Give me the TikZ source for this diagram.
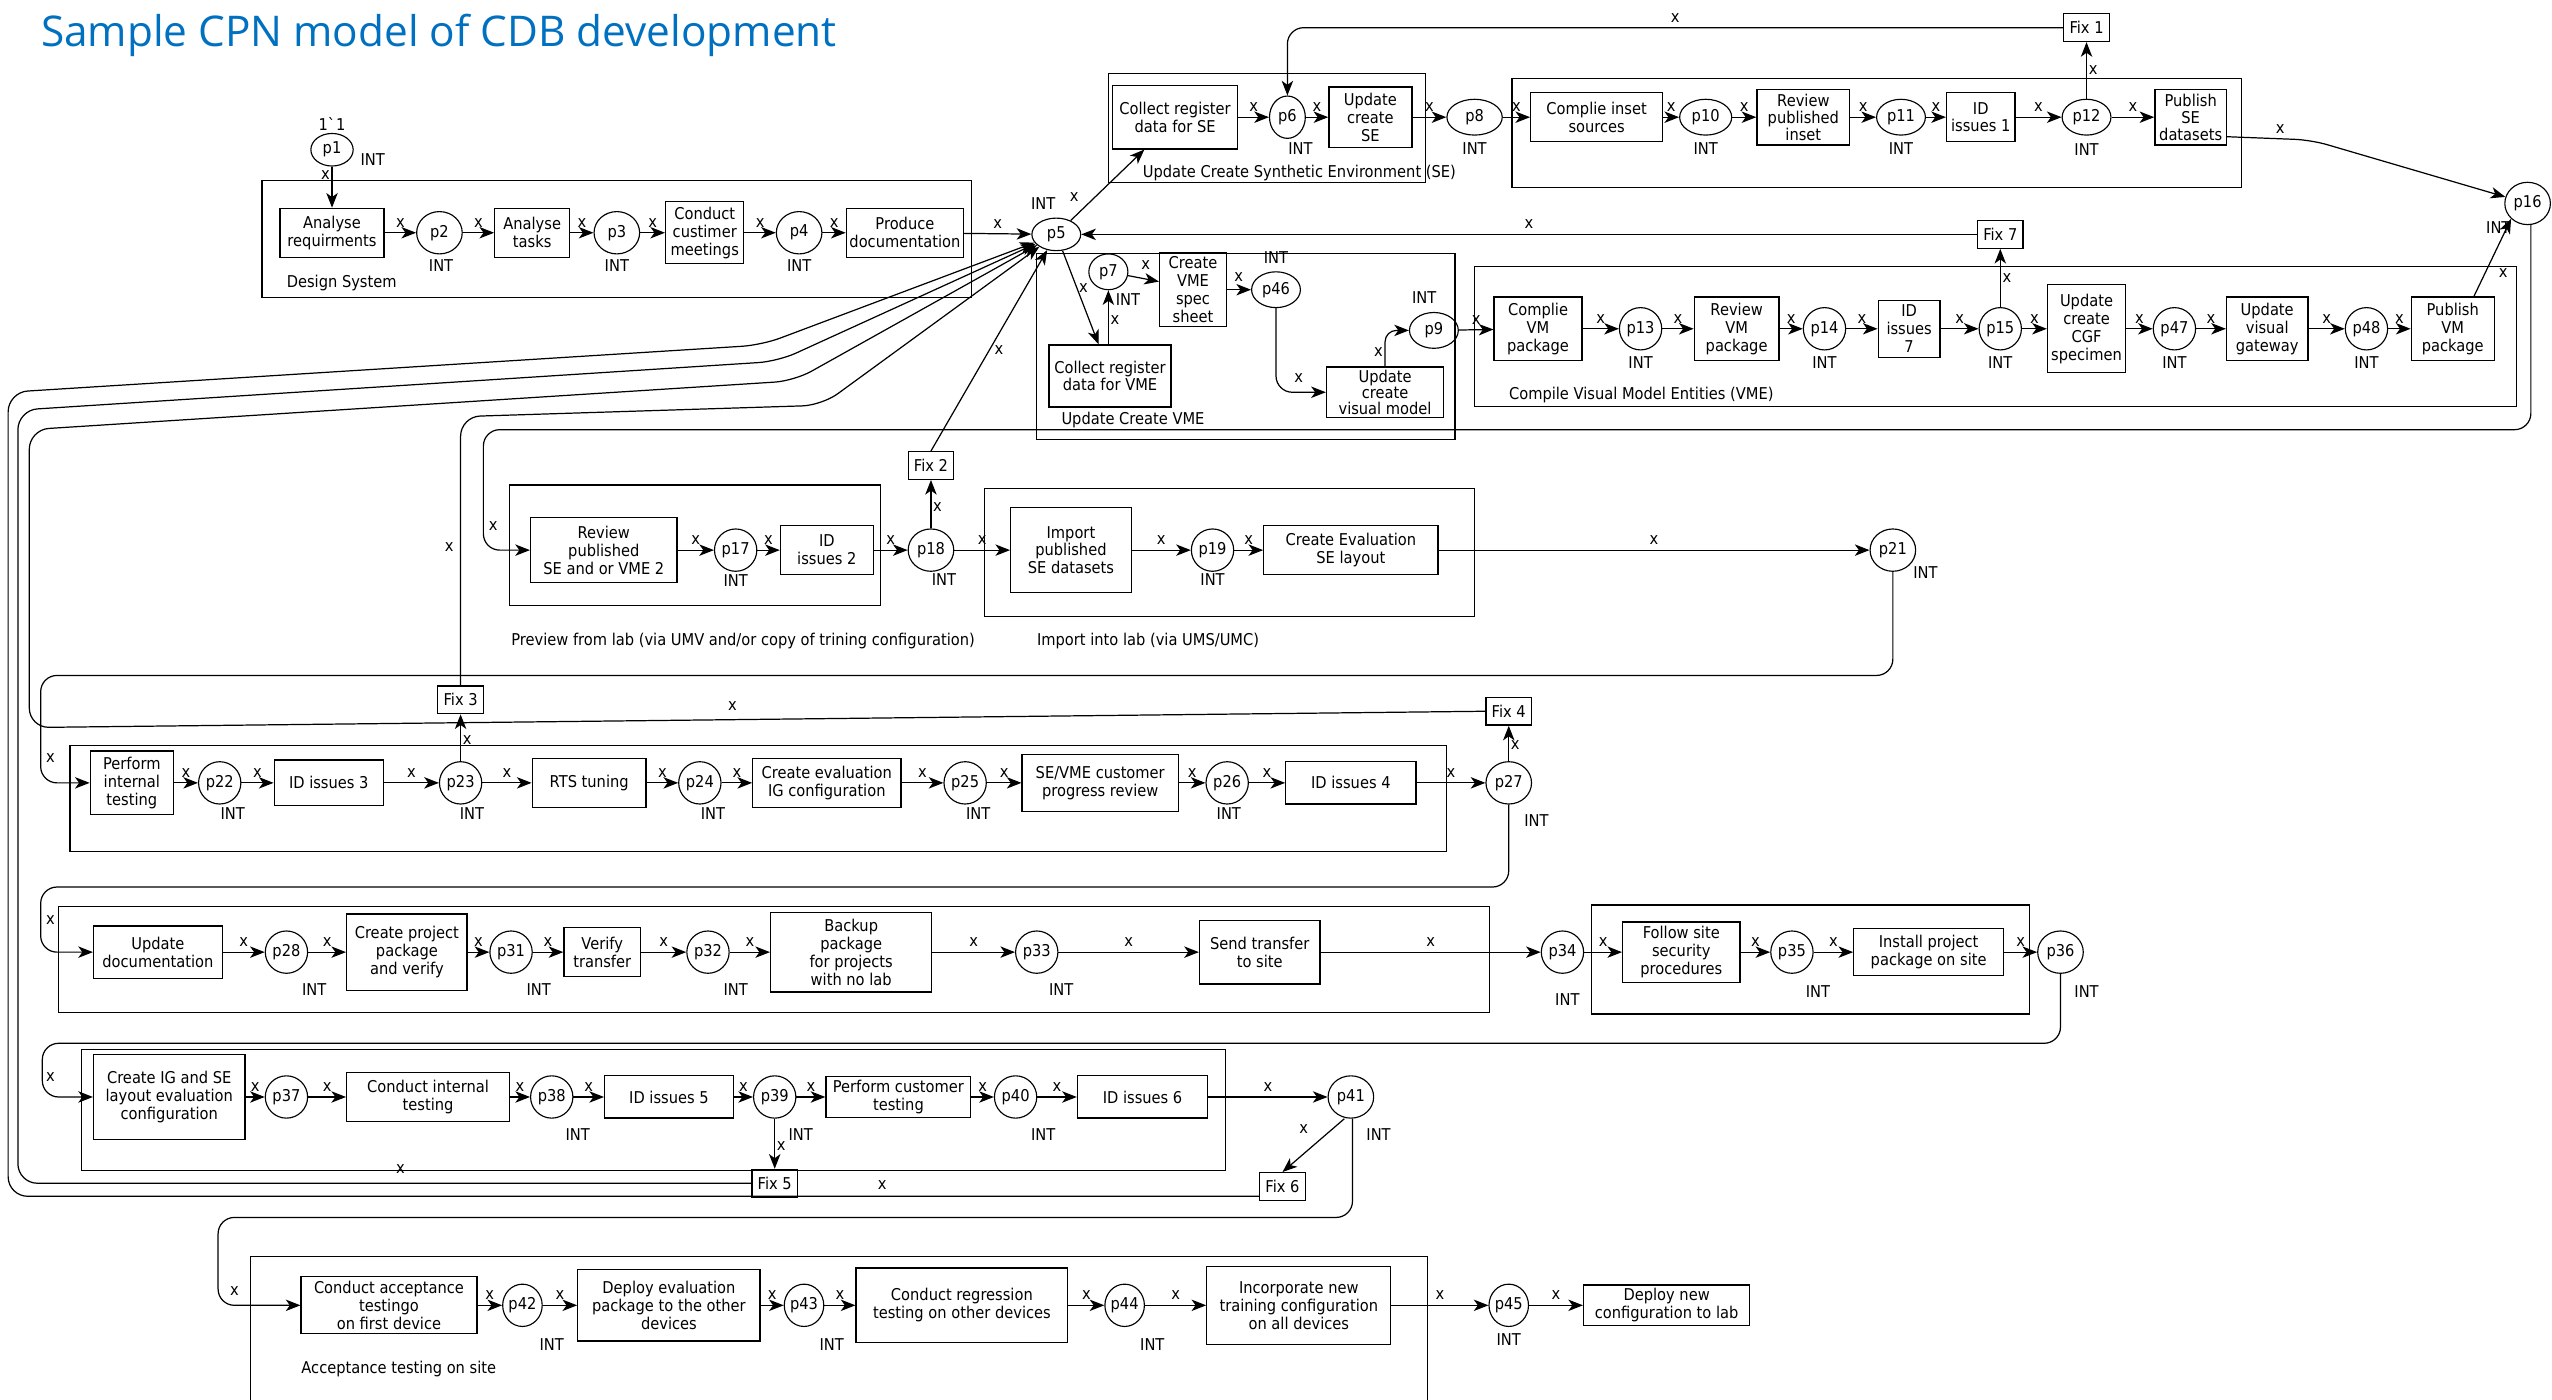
\documentclass[tikz,border=0pt]{standalone}
\usepackage{fontspec}
\setmainfont{DejaVu Sans}[FakeStretch=0.9]
\newfontfamily\titlefont{Open Sans}
\usetikzlibrary{shapes.geometric,arrows.meta}
\definecolor{titleblue}{RGB}{0,112,192}
\newcommand\dfont{\fontsize{10}{11}\selectfont}
\newcommand\sfont{\fontsize{10}{11}\selectfont}
\newcommand\TB[6]{\node[tr,minimum width=#4,minimum height=#5] (#1) at (#2,#3) {#6};}
\newcommand\PL[5]{\node[pl,minimum width=#4,minimum height=#5] (#1) at (#2,#3) {#1};}
\newcommand\IN[3]{\node[intl] (#1) at (#2,#3) {INT};}
\newcommand\AX[2]{\draw[arc] (#1) -- (#2) node[xl,midway,above=2pt]{x};}
\newcommand\XL[3]{\node[xl] (#1) at (#2,#3) {x};}
\begin{document}
\begin{tikzpicture}[x=1pt,y=-1pt]
\tikzset{
 tr/.style={draw, line width=0.8pt, rectangle, align=center, inner sep=1pt, font=\dfont},
 pl/.style={draw, ellipse, line width=0.7pt, inner sep=0pt, font=\dfont},
 arc/.style={line width=0.75pt, -{Stealth[length=9pt,width=7pt,inset=2.5pt]}},
 xl/.style={font=\sfont, inner sep=1pt},
 intl/.style={font=\sfont, inner sep=0pt},
 grp/.style={draw, line width=0.7pt},
 glab/.style={font=\dfont, anchor=west, inner sep=0pt},
 fixb/.style={draw, line width=0.8pt, font=\dfont, inner sep=1pt, minimum width=28, minimum height=17},
}
\fill[white] (0,0) rectangle (1568,860);
\useasboundingbox (0,0) rectangle (1568,860);

\node[font=\titlefont\fontsize{26}{30}\selectfont, text=titleblue, anchor=west, inner sep=0pt] (title) at (25,22) {Sample CPN model of CDB development};

% ---------------- Row 1: Design System
\PL{p1}{204}{92}{26}{20}
\node[xl] (tok) at (204,76) {1\textasciigrave 1};
\IN{i1}{229}{98}
\draw[grp] (161,111) rectangle (597,183);
\node[glab] (gDS) at (176,174) {Design System};
\TB{ar}{204}{143}{64}{30}{Analyse\\requirments}
\PL{p2}{270}{143}{28}{26}
\TB{at}{327}{143}{46}{30}{Analyse\\tasks}
\PL{p3}{379}{143}{28}{26}
\TB{ccm}{433}{143}{48}{38}{Conduct\\custimer\\meetings}
\PL{p4}{491}{143}{28}{26}
\TB{pd}{556}{143}{72}{30}{Produce\\documentation}
\PL{p5}{649}{144}{30}{20}
\IN{i2}{271}{163}
\IN{i3}{379}{163}
\IN{i4}{491}{163}
\IN{i5}{641}{125}
\draw[arc] (p1) -- (ar) node[xl,pos=0.2,left]{x};
\AX{ar}{p2}
\AX{p2}{at}
\AX{at}{p3}
\AX{p3}{ccm}
\AX{ccm}{p4}
\AX{p4}{pd}
\AX{pd}{p5}

% ---------------- SE group
\draw[grp] (681,45) rectangle (876,112);
\node[glab] (gSE) at (702,106) {Update Create Synthetic Environment (SE)};
\TB{crse}{722}{72}{77}{39}{Collect register\\data for SE}
\PL{p6}{791}{72}{22}{26}
\TB{ucse}{842}{72}{51}{37}{Update\\create\\SE}
\PL{p8}{906}{72}{34}{22}
\IN{i6}{799}{91}
\IN{i8}{906}{91}
\draw[arc] (p5) -- ([xshift=20]crse.south west);
\XL{xse}{660}{121}
\AX{crse}{p6}
\AX{p6}{ucse}
\AX{ucse}{p8}

% ---------------- inset group
\draw[grp] (929,48) rectangle (1377,115);
\TB{cis}{981}{72}{81}{30}{Complie inset\\sources}
\PL{p10}{1048}{72}{32}{22}
\node[tr,minimum width=57,minimum height=34,font=\fontsize{10}{10.5}\selectfont] (rpi) at (1108,72) {Review\\published\\inset};
\PL{p11}{1168}{72}{30}{22}
\TB{id1}{1217}{72}{42}{30}{ID\\issues 1}
\PL{p12}{1282}{72}{30}{22}
\node[tr,minimum width=44,minimum height=34,font=\fontsize{10}{10.5}\selectfont] (pse) at (1346,72) {Publish\\SE\\datasets};
\IN{i10}{1048}{91}
\IN{i11}{1168}{91}
\IN{i12}{1282}{92}
\AX{p8}{cis}
\AX{cis}{p10}
\AX{p10}{rpi}
\AX{rpi}{p11}
\AX{p11}{id1}
\AX{id1}{p12}
\AX{p12}{pse}
\node[fixb] (fix1) at (1282,17) {Fix 1};
\draw[arc] (p12) -- (fix1) node[xl,pos=0.5,right]{x};
\draw[arc, rounded corners=10] (fix1.west) -| (p6.north) node[xl,pos=0.25,above=2pt]{x};
\PL{p16}{1553}{125}{28}{26}
\IN{i16}{1535}{140}
\draw[arc, rounded corners=10] ([yshift=-12]pse.east) -- (1420,86) -- (p16);
\XL{xp16}{1401}{79}

% ---------------- Fix 7
\node[fixb] (fix7) at (1229,144) {Fix 7};
\draw[arc] (fix7) -- (p5) node[xl,midway,above=2pt]{x};

% ---------------- VME group
\draw[grp] (637,156) rectangle (894,270);
\node[glab] (gVME) at (652,258) {Update Create VME};
\PL{p7}{681}{167}{24}{22}
\node[tr,minimum width=41,minimum height=45,font=\fontsize{10}{11}\selectfont] (cvss) at (733,178) {Create\\VME\\spec\\sheet};
\PL{p46}{784}{178}{30}{22}
\TB{crvme}{682}{231}{75}{38}{Collect register\\data for VME}
\node[tr,minimum width=72,minimum height=31,font=\fontsize{10}{10}\selectfont] (ucvm) at (851,241) {Update\\create\\visual model};
\PL{p9}{881}{203}{30}{22}
\IN{i7}{693}{184}
\IN{i46}{784}{158}
\IN{i9}{875}{183}
\draw[arc] (p5) -- ([xshift=-7]crvme.north) node[xl,pos=0.4,right]{x};
\draw[arc] ([xshift=-1]crvme.north) -- (p7) node[xl,pos=0.45,right]{x};
\draw[arc] (p7) -- ([yshift=5]cvss.west);
\XL{xp7}{704}{163}
\draw[arc] (cvss) -- (p46);
\XL{xcv}{761}{170}
\draw[arc, rounded corners=10] (p46.south) |- (ucvm.west);
\XL{xp46}{798}{232}
\draw[arc, rounded corners=7] (ucvm.north) |- (p9.west);
\XL{xuc}{847}{216}

% ---------------- Compile VME group
\draw[grp] (906,164) rectangle (1546,250);
\node[glab] (gCVME) at (927,243) {Compile Visual Model Entities (VME)};
\TB{cvmp}{945}{202}{54}{39}{Complie\\VM\\package}
\PL{p13}{1008}{202}{26}{26}
\TB{rvmp}{1067}{202}{52}{39}{Review\\VM\\package}
\PL{p14}{1121}{202}{26}{26}
\TB{id7}{1173}{202}{38}{35}{ID\\issues\\7}
\PL{p15}{1229}{202}{26}{26}
\TB{ucgf}{1282}{202}{48}{54}{Update\\create\\CGF\\specimen}
\PL{p47}{1336}{202}{26}{26}
\TB{uvg}{1393}{202}{50}{39}{Update\\visual\\gateway}
\PL{p48}{1454}{202}{26}{26}
\TB{pvm}{1507}{202}{51}{39}{Publish\\VM\\package}
\IN{i13}{1008}{223}
\IN{i14}{1121}{223}
\IN{i15}{1229}{223}
\IN{i47}{1336}{223}
\IN{i48}{1454}{223}
\AX{p9}{cvmp}
\AX{cvmp}{p13}
\AX{p13}{rvmp}
\AX{rvmp}{p14}
\AX{p14}{id7}
\AX{id7}{p15}
\AX{p15}{ucgf}
\AX{ucgf}{p47}
\AX{p47}{uvg}
\AX{uvg}{p48}
\AX{p48}{pvm}
\draw[arc] (p15) -- (fix7) node[xl,pos=0.5,right]{x};
\draw[arc] ([xshift=13]pvm.north) -- (p16.south west);
\XL{xpvm}{1538}{168}

% ---------------- Preview group
\draw[grp] (313,298) rectangle (541,372);
\node[glab] (gPV) at (314,394) {Preview from lab (via UMV and/or copy of trining configuration)};
\TB{rps}{371}{338}{90}{40}{Review\\published\\SE and or VME 2}
\PL{p17}{452}{338}{26}{26}
\TB{id2}{508}{338}{57}{30}{ID\\issues 2}
\PL{p18}{572}{338}{28}{26}
\IN{i17}{452}{357}
\IN{i18}{580}{356}
\AX{rps}{p17}
\AX{p17}{id2}
\AX{id2}{p18}
\node[fixb] (fix2) at (572,286) {Fix 2};
\draw[arc] (p18) -- (fix2) node[xl,pos=0.45,right]{x};
\draw[arc] (fix2.north) -- (p5) node[xl,pos=0.5,right=2pt]{x};
\draw[arc, rounded corners=10] ([xshift=2]p16.south) -- (1555,264) -- (297,264) -- (297,338) -- (rps.west);
\XL{xrps}{303}{323}

% ---------------- Import group
\draw[grp] (605,300) rectangle (906,379);
\node[glab] (gIM) at (637,394) {Import into lab (via UMS/UMC)};
\TB{ipsd}{658}{338}{74}{52}{Import\\published\\SE datasets}
\PL{p19}{745}{338}{26}{26}
\TB{cesl}{830}{338}{107}{30}{Create Evaluation\\SE layout}
\PL{p21}{1163}{338}{28}{26}
\IN{i19}{745}{356}
\IN{i21}{1183}{352}
\AX{p18}{ipsd}
\AX{ipsd}{p19}
\AX{p19}{cesl}
\AX{cesl}{p21}

% ---------------- Row 3
\draw[grp] (43,458) rectangle (889,523);
\TB{pit}{81}{481}{51}{39}{Perform\\internal\\testing}
\PL{p22}{135}{481}{26}{26}
\TB{id3}{202}{481}{67}{28}{ID issues 3}
\PL{p23}{283}{481}{26}{26}
\TB{rts}{362}{481}{70}{30}{RTS tuning}
\PL{p24}{430}{481}{26}{26}
\TB{ceig}{508}{481}{91}{30}{Create evaluation\\IG configuration}
\PL{p25}{593}{481}{26}{26}
\TB{sevme}{676}{481}{96}{35}{SE/VME customer\\progress review}
\PL{p26}{754}{481}{26}{26}
\TB{id4}{830}{481}{80}{26}{ID issues 4}
\PL{p27}{927}{481}{28}{26}
\IN{i22}{143}{500}
\IN{i23}{290}{500}
\IN{i24}{438}{500}
\IN{i25}{601}{500}
\IN{i26}{755}{500}
\IN{i27}{944}{504}
\AX{pit}{p22}
\AX{p22}{id3}
\AX{id3}{p23}
\AX{p23}{rts}
\AX{rts}{p24}
\AX{p24}{ceig}
\AX{ceig}{p25}
\AX{p25}{sevme}
\AX{sevme}{p26}
\AX{p26}{id4}
\AX{id4}{p27}
\node[fixb] (fix3) at (283,430) {Fix 3};
\node[fixb] (fix4) at (927,437) {Fix 4};
\draw[arc] (p23) -- (fix3) node[xl,pos=0.45,right]{x};
\draw[arc] (p27) -- (fix4) node[xl,pos=0.45,right]{x};
\draw[arc, rounded corners=10] (p21.south) -- (1163,415) -- (25,415) -- (25,481) -- (pit.west);
\XL{xp21}{31}{466}

% ---------------- returns to p5
\draw[arc, rounded corners=12] (fix3.north) -- (283,256) -- (505,249) -- (p5);
\XL{xf3}{276}{336}
\draw[arc, rounded corners=12] (fix4.west) -- (18,447) -- (18,264) -- (488,234) -- (p5);
\XL{xf4}{450}{434}

% ---------------- Row 4
\draw[grp] (36,557) rectangle (915,622);
\TB{ud}{97}{585}{79}{32}{Update\\documentation}
\PL{p28}{176}{585}{26}{26}
\TB{cppv}{250}{585}{74}{47}{Create project\\package\\and verify}
\PL{p31}{314}{585}{26}{26}
\TB{vt}{370}{585}{47}{30}{Verify\\transfer}
\PL{p32}{435}{585}{26}{26}
\TB{bp}{523}{585}{99}{49}{Backup\\package\\for projects\\with no lab}
\PL{p33}{637}{585}{26}{26}
\TB{stts}{774}{585}{74}{39}{Send transfer\\to site}
\PL{p34}{960}{585}{26}{26}
\IN{i28}{193}{608}
\IN{i31}{331}{608}
\IN{i32}{452}{608}
\IN{i33}{652}{608}
\IN{i34}{963}{614}
\AX{ud}{p28}
\AX{p28}{cppv}
\AX{cppv}{p31}
\AX{p31}{vt}
\AX{vt}{p32}
\AX{p32}{bp}
\AX{bp}{p33}
\AX{p33}{stts}
\AX{stts}{p34}
\draw[arc, rounded corners=10] (p27.south) -- (927,545) -- (25,545) -- (25,585) -- (ud.west);
\XL{xp27}{31}{565}

\draw[grp] (978,556) rectangle (1247,623);
\TB{fssp}{1033}{585}{72}{37}{Follow site\\security\\procedures}
\PL{p35}{1101}{585}{26}{26}
\TB{ippos}{1185}{585}{92}{29}{Install project\\package on site}
\PL{p36}{1266}{585}{28}{26}
\IN{i35}{1117}{609}
\IN{i36}{1282}{609}
\AX{p34}{fssp}
\AX{fssp}{p35}
\AX{p35}{ippos}
\AX{ippos}{p36}

% ---------------- Row 5
\draw[grp] (50,645) rectangle (753,719);
\TB{cig}{104}{674}{93}{52}{Create IG and SE\\layout  evaluation\\configuration}
\PL{p37}{176}{674}{26}{26}
\TB{cit}{263}{674}{100}{30}{Conduct internal\\testing}
\PL{p38}{339}{674}{26}{26}
\TB{id5}{411}{674}{79}{26}{ID issues 5}
\PL{p39}{476}{674}{26}{26}
\TB{pct}{552}{674}{89}{25}{Perform customer\\testing}
\PL{p40}{624}{674}{26}{26}
\TB{id6}{702}{674}{80}{26}{ID issues 6}
\PL{p41}{830}{674}{28}{26}
\IN{i38}{355}{697}
\IN{i39}{492}{697}
\IN{i40}{641}{697}
\IN{i41}{847}{697}
\AX{cig}{p37}
\AX{p37}{cit}
\AX{cit}{p38}
\AX{p38}{id5}
\AX{id5}{p39}
\AX{p39}{pct}
\AX{pct}{p40}
\AX{p40}{id6}
\AX{id6}{p41}
\draw[arc, rounded corners=10] (p36.south) -- (1266,641) -- (26,641) -- (26,674) -- (cig.west);
\XL{xp36}{31}{662}
\node[fixb] (fix5) at (476,727) {Fix 5};
\node[fixb] (fix6) at (788,729) {Fix 6};
\draw[arc] (p39) -- (fix5) node[xl,pos=0.55,right]{x};
\draw[arc] ([xshift=-4]p41.south) -- (fix6.north);
\XL{xp41}{801}{694}
\draw[arc, rounded corners=12] (fix5.west) -- (11,727) -- (11,252) -- (478,222) -- (p5);
\XL{xf5}{246}{718}
\draw[arc, rounded corners=12] ([yshift=-6]fix6.west) -- (5,735) -- (5,241) -- (468,212) -- (p5);
\XL{xf6}{542}{728}

% ---------------- Row 6
\draw[grp] (154,866) -- (154,772) -- (877,772) -- (877,866);
\node[glab] (gAT) at (185,841) {Acceptance testing on site};
\TB{cat}{239}{802}{108}{35}{Conduct acceptance\\testingo\\on first device}
\PL{p42}{321}{802}{24}{26}
\TB{depd}{411}{802}{112}{44}{Deploy evaluation\\package to the other\\devices}
\PL{p43}{494}{802}{24}{26}
\TB{crt}{591}{802}{130}{46}{Conduct regression\\testing  on other devices}
\PL{p44}{691}{802}{24}{26}
\TB{intc}{798}{802}{113}{48}{Incorporate new\\training  configuration\\on all devices}
\PL{p45}{927}{802}{24}{26}
\TB{dnc}{1024}{802}{102}{25}{Deploy new\\configuration to lab}
\IN{i42}{339}{826}
\IN{i43}{511}{826}
\IN{i44}{708}{826}
\IN{i45}{927}{823}
\AX{cat}{p42}
\AX{p42}{depd}
\AX{depd}{p43}
\AX{p43}{crt}
\AX{crt}{p44}
\AX{p44}{intc}
\AX{intc}{p45}
\AX{p45}{dnc}
\draw[arc, rounded corners=10] ([xshift=1]p41.south) -- (831,748) -- (134,748) -- (134,802) -- (cat.west);
\XL{xp41b}{144}{793}
\end{tikzpicture}
\end{document}
